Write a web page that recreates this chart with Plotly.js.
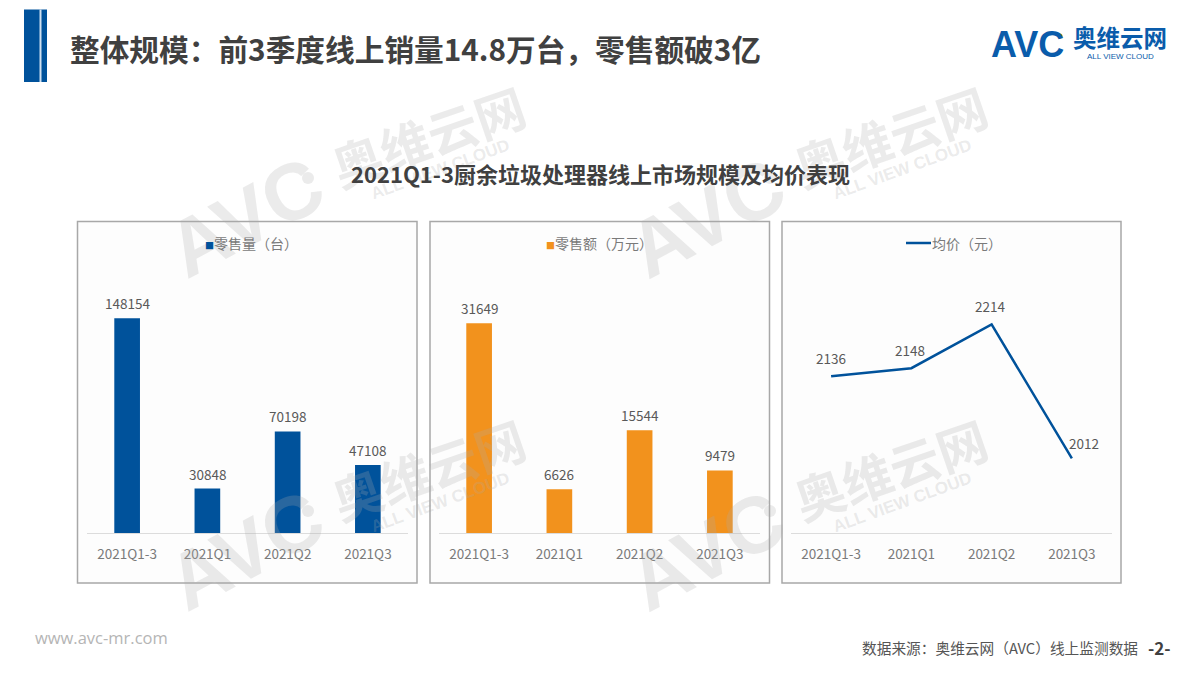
<!DOCTYPE html>
<html><head><meta charset="utf-8">
<script src="https://cdn.plot.ly/plotly-3.0.1.min.js"></script>
<style>html,body{margin:0;padding:0;background:#fff}#c{width:1200px;height:675px}</style>
</head><body><div id="c"></div>
<script>
const categories = ["2021Q1-3","2021Q1","2021Q2","2021Q3"];
const salesVolume = [148154,30848,70198,47108];
const salesValue = [31649,6626,15544,9479];
const avgPrice = [2136,2148,2214,2012];
const pageTitle = "整体规模：前3季度线上销量14.8万台，零售额破3亿";
const chartTitle = "2021Q1-3厨余垃圾处理器线上市场规模及均价表现";
const legendVolume = "零售量（台）";
const legendValue = "零售额（万元）";
const legendPrice = "均价（元）";
const sourceNote = "数据来源：奥维云网（AVC）线上监测数据";

const W=1200,H=675;
const BLUE="#00529b",ORANGE="#f2921d",GREY="#7a7a7a";
const CJK='"Noto Sans CJK SC","Liberation Sans",sans-serif';
const LATIN='"Liberation Sans",sans-serif';
const px=x=>x/W, py=y=>1-y/H;
const plotTop=270, plotBottom=533.3;

const ann=[], shapes=[];
function text(t,x,y,size,color,opts={}){
  ann.push(Object.assign({text:t,x:px(x),y:py(y),xref:'paper',yref:'paper',showarrow:false,xanchor:'center',yanchor:'middle',
    font:{family:CJK,size:size,color:color}},opts));
}
function rect(x0,y0,x1,y1,fill,line,lw,layer){
  shapes.push({type:'rect',xref:'paper',yref:'paper',x0:px(x0),x1:px(x1),y0:py(y0),y1:py(y1),fillcolor:fill,
    line:{color:line||'rgba(0,0,0,0)',width:lw||0},layer:layer||'below'});
}
// header bar
rect(24,9.5,47,82,BLUE); rect(39.5,9.5,41.5,82,"#cfe0f0");
// panels
[[77.5,417],[430,769.5],[782,1121]].forEach(p=>{rect(p[0],221.5,p[1],583,"#fdfdfd","#a8a8a8",1.5);});

// watermarks
function watermark(ax,ay){
  const c='rgba(170,170,170,0.24)';
  text('<b>AVC</b>',ax-10,ay-5,80,c,{textangle:-28,font:{family:LATIN,size:80,color:c}});
  shapes.push({type:'circle',xref:'paper',yref:'paper',x0:px(ax+47),x1:px(ax+59),y0:py(ay-50),y1:py(ay-38),fillcolor:c,line:{width:0},layer:'above'});
  text('<b>奥维云网</b>',ax+173,ay-87,50,c,{textangle:-19,font:{family:CJK,size:50,color:c}});
  text('<b>ALL VIEW CLOUD</b>',ax+185,ay-53,17,c,{textangle:-20,font:{family:LATIN,size:17,color:c}});
}
watermark(255,222); watermark(717,222); watermark(255,555); watermark(717,555);

// titles
text('<b>'+pageTitle+'</b>',68,48,29.7,"#404040",{xanchor:'left'});
text('<b>'+chartTitle+'</b>',600,173,22,"#404040");
// logo
text('<b>AVC</b>',1027,45,36,"#0a5cab",{font:{family:LATIN,size:36,color:"#0a5cab"}});
shapes.push({type:'circle',xref:'paper',yref:'paper',x0:px(1057.5),x1:px(1062.5),y0:py(33.5),y1:py(38.5),fillcolor:"#f2921d",line:{width:0}});
text('<b>奥维云网</b>',1120,37,23.5,"#0a5cab");
text('ALL VIEW CLOUD',1120,57,8,"#0a5cab",{font:{family:LATIN,size:8,color:"#0a5cab"}});
// footer
text('www.avc-mr.com',33,637,16.5,"#b5b5b5",{xanchor:'left',font:{family:'"Open Sans",sans-serif',size:16.5,color:"#b5b5b5"}});
text(sourceNote,860,647,14.7,"#555555",{xanchor:'left'});
text('<b>-2-</b>',1159,647,17,"#404040");

// legends
const swatch=c=>'<span style="color:'+c+';font-size:9px">■</span>';
text(swatch(BLUE)+legendVolume,251,242.5,14,GREY);
text(swatch(ORANGE)+legendValue,599,242.5,14,GREY);
shapes.push({type:'line',xref:'paper',yref:'paper',x0:px(906),x1:px(931),y0:py(243),y1:py(243),line:{color:BLUE,width:2.5}});
text(legendPrice,967,242.5,14,GREY);

function dataLabels(ax,vals,shifts){
  vals.forEach((v,i)=>{
    const s=shifts?shifts[i]:[0,15];
    ann.push({text:String(v),x:categories[i],y:v,xref:'x'+ax,yref:'y'+ax,showarrow:false,xanchor:'center',yanchor:'middle',xshift:s[0],yshift:s[1],
      font:{family:CJK,size:13.5,color:"#595959"}});
  });
}
dataLabels('',salesVolume);
dataLabels('2',salesValue);
dataLabels('3',avgPrice,[[0,18],[-1,18],[-2,18],[12,15]]);

const traces=[
 {type:'bar',x:categories,y:salesVolume,marker:{color:BLUE},width:0.32,xaxis:'x',yaxis:'y',name:legendVolume},
 {type:'bar',x:categories,y:salesValue,marker:{color:ORANGE},width:0.32,xaxis:'x2',yaxis:'y2',name:legendValue},
 {type:'scatter',mode:'lines',x:categories,y:avgPrice,line:{color:BLUE,width:2.5},xaxis:'x3',yaxis:'y3',name:legendPrice}
];
function xa(l,r){return {domain:[px(l),px(r)],type:'category',categoryorder:'array',categoryarray:categories,range:[-0.5,3.5],showgrid:false,zeroline:false,showline:true,linecolor:"#dcdcdc",linewidth:1,
  ticks:'outside',ticklen:8,tickcolor:'rgba(0,0,0,0)',tickfont:{family:CJK,size:13.5,color:GREY},fixedrange:true};}
function ya(xref,range){return {domain:[py(plotBottom),py(plotTop)],anchor:xref,range:range,visible:false,fixedrange:true};}
const layout={width:W,height:H,margin:{l:0,r:0,t:0,b:0},paper_bgcolor:'#fff',plot_bgcolor:'rgba(0,0,0,0)',showlegend:false,
 xaxis:Object.assign(xa(87,408),{anchor:'y'}),yaxis:ya('x',[0,148154*263.3/215]),
 xaxis2:Object.assign(xa(439,760),{anchor:'y2'}),yaxis2:ya('x2',[0,31649*263.3/210]),
 xaxis3:Object.assign(xa(791,1112),{anchor:'y3'}),yaxis3:ya('x3',[1899,1899+263.3/0.663]),
 annotations:ann,shapes:shapes};
Plotly.newPlot('c',traces,layout,{displayModeBar:false,staticPlot:true});
</script></body></html>
